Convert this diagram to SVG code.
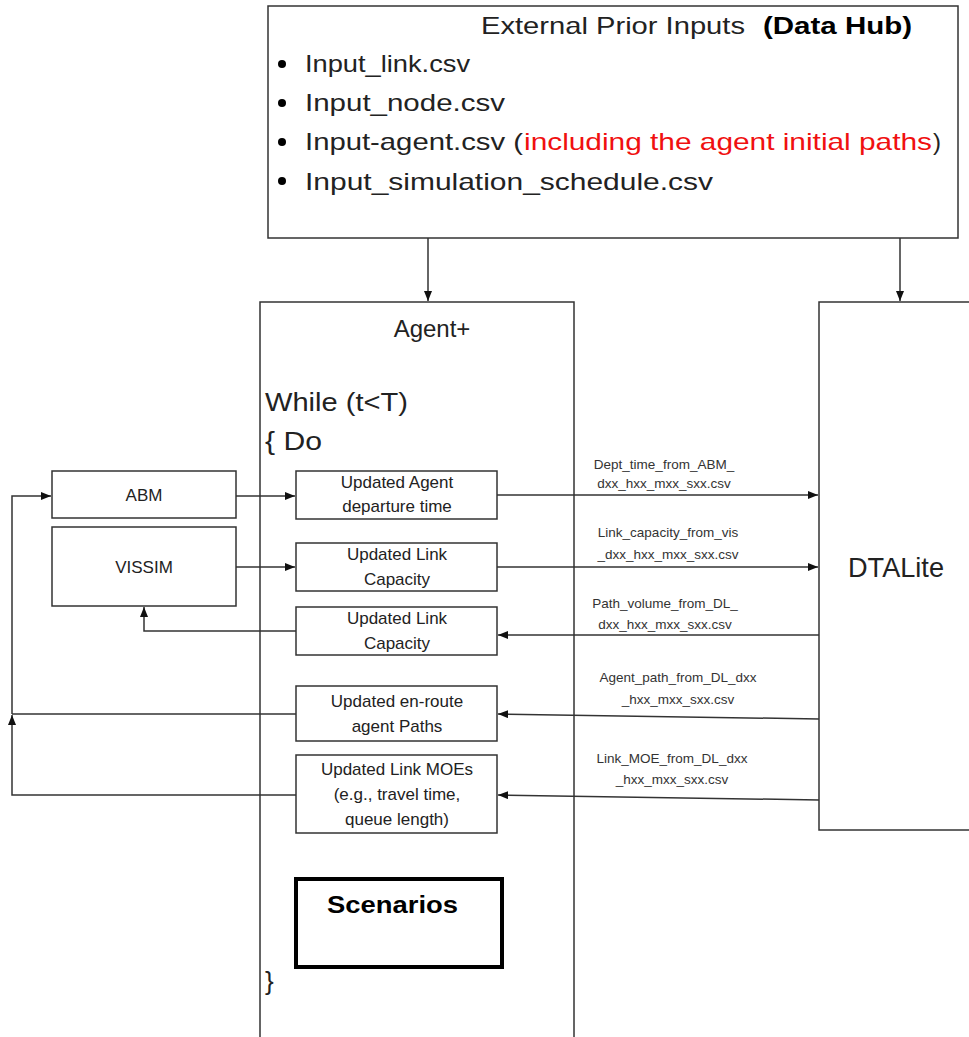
<svg xmlns="http://www.w3.org/2000/svg" width="969" height="1037" viewBox="0 0 969 1037">
<style>
  .box{fill:#fff;stroke:#333;stroke-width:1.5}
  .t{font-family:"Liberation Sans",Arial,sans-serif;fill:#222}
  .big{font-size:24px}
  .mid{font-size:17px;text-anchor:middle}
  .lbl{font-size:13.5px;text-anchor:middle;fill:#333}
  .red{fill:#f01010}
  .blk{fill:#000}
  .ln{fill:none;stroke:#333;stroke-width:1.5}
</style>
<defs>
  <marker id="ah" markerWidth="10" markerHeight="8" refX="10" refY="4" orient="auto" markerUnits="userSpaceOnUse">
    <path d="M0,0 L10,4 L0,8 z" fill="#111"/>
  </marker>
</defs>
<rect width="969" height="1037" fill="#fff"/>

<g id="data-hub">
  <rect class="box" x="268" y="6" width="690" height="232"/>
  <text class="t big" x="481" y="34" textLength="264" lengthAdjust="spacingAndGlyphs">External Prior Inputs</text>
  <text class="t big blk" x="763" y="34" font-weight="bold" textLength="149" lengthAdjust="spacingAndGlyphs">(Data Hub)</text>
  <circle cx="282" cy="64" r="4" fill="#000"/>
  <circle cx="282" cy="103" r="4" fill="#000"/>
  <circle cx="282" cy="142" r="4" fill="#000"/>
  <circle cx="282" cy="181" r="4" fill="#000"/>
  <text class="t big" x="305" y="72" textLength="165" lengthAdjust="spacingAndGlyphs">Input_link.csv</text>
  <text class="t big" x="305" y="111" textLength="200" lengthAdjust="spacingAndGlyphs">Input_node.csv</text>
  <text class="t big" x="305" y="150" textLength="218" lengthAdjust="spacingAndGlyphs">Input-agent.csv (</text>
  <text class="t big red" x="524" y="150" textLength="408" lengthAdjust="spacingAndGlyphs">including the agent initial paths</text>
  <text class="t big" x="933" y="150">)</text>
  <text class="t big" x="305" y="190" textLength="408" lengthAdjust="spacingAndGlyphs">Input_simulation_schedule.csv</text>
</g>

<g id="agent-plus">
  <rect class="box" x="260" y="302" width="314" height="760"/>
  <text class="t big" x="432" y="337" text-anchor="middle">Agent+</text>
  <text class="t" x="265" y="411" font-size="26" textLength="143" lengthAdjust="spacingAndGlyphs">While (t&lt;T)</text>
  <text class="t" x="265" y="450" font-size="26" textLength="57" lengthAdjust="spacingAndGlyphs">{ Do</text>
  <text class="t" x="265" y="990" font-size="26">}</text>
</g>

<g id="dtalite">
  <rect class="box" x="819" y="302" width="170" height="528"/>
  <text class="t" x="848" y="577" font-size="28" textLength="96" lengthAdjust="spacingAndGlyphs">DTALite</text>
</g>

<g id="abm">
  <rect class="box" x="52" y="471" width="184" height="47"/>
  <text class="t mid" x="144" y="501">ABM</text>
</g>
<g id="vissim">
  <rect class="box" x="52" y="527" width="184" height="79"/>
  <text class="t mid" x="144" y="573">VISSIM</text>
</g>

<g id="upd-departure">
  <rect class="box" x="296" y="471" width="201" height="48"/>
  <text class="t mid" x="397" y="488">Updated Agent</text>
  <text class="t mid" x="397" y="512">departure time</text>
</g>
<g id="upd-capacity-1">
  <rect class="box" x="296" y="543" width="201" height="48"/>
  <text class="t mid" x="397" y="560">Updated Link</text>
  <text class="t mid" x="397" y="585">Capacity</text>
</g>
<g id="upd-capacity-2">
  <rect class="box" x="296" y="607" width="201" height="48"/>
  <text class="t mid" x="397" y="624">Updated Link</text>
  <text class="t mid" x="397" y="649">Capacity</text>
</g>
<g id="upd-paths">
  <rect class="box" x="296" y="686" width="201" height="55"/>
  <text class="t mid" x="397" y="707">Updated en-route</text>
  <text class="t mid" x="397" y="732">agent Paths</text>
</g>
<g id="upd-moe">
  <rect class="box" x="296" y="755" width="201" height="78"/>
  <text class="t mid" x="397" y="775">Updated Link MOEs</text>
  <text class="t mid" x="397" y="800">(e.g., travel time,</text>
  <text class="t mid" x="397" y="825">queue length)</text>
</g>

<g id="scenarios">
  <rect x="296" y="879" width="206" height="88" fill="#fff" stroke="#000" stroke-width="4"/>
  <text class="t blk" x="327" y="913" font-size="23" font-weight="bold" textLength="131" lengthAdjust="spacingAndGlyphs">Scenarios</text>
</g>

<g id="connectors">
  <line class="ln" x1="428" y1="238" x2="428" y2="301" marker-end="url(#ah)"/>
  <line class="ln" x1="900" y1="238" x2="900" y2="301" marker-end="url(#ah)"/>
  <line class="ln" x1="236" y1="496" x2="295" y2="496" marker-end="url(#ah)"/>
  <line class="ln" x1="497" y1="495" x2="818" y2="495" marker-end="url(#ah)"/>
  <line class="ln" x1="236" y1="567" x2="295" y2="567" marker-end="url(#ah)"/>
  <line class="ln" x1="497" y1="567" x2="818" y2="567" marker-end="url(#ah)"/>
  <line class="ln" x1="819" y1="635" x2="498" y2="635" marker-end="url(#ah)"/>
  <polyline class="ln" points="296,631 144,631 144,607" marker-end="url(#ah)"/>
  <line class="ln" x1="819" y1="719" x2="498" y2="714" marker-end="url(#ah)"/>
  <line class="ln" x1="819" y1="800" x2="498" y2="795" marker-end="url(#ah)"/>
  <line class="ln" x1="296" y1="714" x2="12" y2="714"/>
  <polyline class="ln" points="296,795 12,795 12,715" marker-end="url(#ah)"/>
  <polyline class="ln" points="12,714 12,496 51,496" marker-end="url(#ah)"/>
  <text class="t lbl" x="664" y="469">Dept_time_from_ABM_</text>
  <text class="t lbl" x="664" y="488">dxx_hxx_mxx_sxx.csv</text>
  <text class="t lbl" x="668" y="537">Link_capacity_from_vis</text>
  <text class="t lbl" x="668" y="559">_dxx_hxx_mxx_sxx.csv</text>
  <text class="t lbl" x="665" y="608">Path_volume_from_DL_</text>
  <text class="t lbl" x="665" y="629">dxx_hxx_mxx_sxx.csv</text>
  <text class="t lbl" x="678" y="682">Agent_path_from_DL_dxx</text>
  <text class="t lbl" x="678" y="704">_hxx_mxx_sxx.csv</text>
  <text class="t lbl" x="672" y="763">Link_MOE_from_DL_dxx</text>
  <text class="t lbl" x="672" y="784">_hxx_mxx_sxx.csv</text>
</g>
</svg>
